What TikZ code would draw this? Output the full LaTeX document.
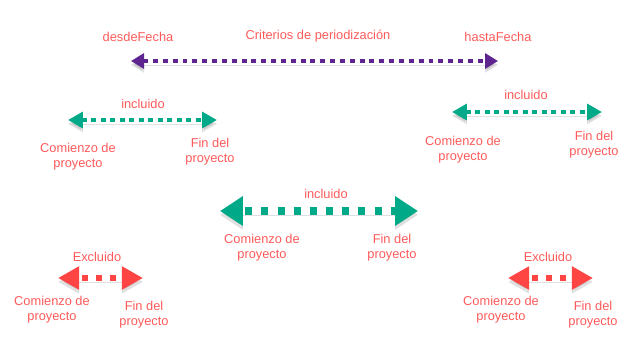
\documentclass[tikz,border=0pt]{standalone}
\usepackage{fontspec}
\setmainfont{Liberation Sans}
\usetikzlibrary{arrows.meta, positioning}

\definecolor{morado}{HTML}{5E2590}
\definecolor{verde}{HTML}{00AA88}
\definecolor{rojo}{HTML}{FF4444}
\definecolor{texto}{HTML}{FF5A5A}

\begin{document}
\begin{tikzpicture}[x=0.02cm, y=-0.02cm,
    every node/.style={font=\fontsize{7.3}{8.7}\selectfont, text=texto, align=center, inner sep=0pt},
    sombra/.style={preaction={draw=black, opacity=0.12, solid, transform canvas={yshift=-2.2pt}}},
    periodo/.style={draw=morado, line width=2.8pt, dash pattern=on 2.8pt off 2.8pt, {Triangle[length=7.4pt, width=8.5pt]}-{Triangle[length=7.4pt, width=8.5pt]}, sombra},
    incl/.style={draw=verde, line width=2.8pt, dash pattern=on 2.8pt off 2.6pt, {Triangle[length=8.5pt, width=9pt]}-{Triangle[length=8.5pt, width=9pt]}, sombra},
    inclgr/.style={draw=verde, line width=4pt, dash pattern=on 4pt off 5.2pt, dash phase=7pt, {Triangle[length=13pt, width=16pt]}-{Triangle[length=13pt, width=16pt]}, sombra},
    excl/.style={draw=rojo, line width=3.4pt, dash pattern=on 3.4pt off 4.5pt, dash phase=5.6pt, {Triangle[length=12pt, width=12.5pt]}-{Triangle[length=12pt, width=12.5pt]}, sombra}]
    \useasboundingbox (0,0) rectangle (639,342);

    % periodo
    \coordinate (desde) at (131,61);
    \coordinate (hasta) at (498,61);
    \node (desdeLbl) at (138,37) {desdeFecha};
    \node (criterios) at (318,36) {Criterios de periodización};
    \node (hastaLbl) at (498,37) {hastaFecha};
    \draw[periodo] (desde) -- (hasta);

    % incluido, a la izquierda
    \coordinate (inA1) at (68,120);
    \coordinate (inA2) at (217,120);
    \node (inclA) at (143,104) {incluido};
    \node (comA) at (78,157) {Comienzo de\\proyecto};
    \node (finA) at (210,152) {Fin del\\proyecto};
    \draw[incl] (inA1) -- (inA2);

    % incluido, a la derecha
    \coordinate (inB1) at (452,112);
    \coordinate (inB2) at (602,112);
    \node (inclB) at (526,95) {incluido};
    \node (comB) at (463,150) {Comienzo de\\proyecto};
    \node (finB) at (594,145) {Fin del\\proyecto};
    \draw[incl] (inB1) -- (inB2);

    % incluido, al centro
    \coordinate (inC1) at (220,211);
    \coordinate (inC2) at (418,211);
    \node (inclC) at (326,194) {incluido};
    \node (comC) at (262,248) {Comienzo de\\proyecto};
    \node (finC) at (392,248) {Fin del\\proyecto};
    \draw[inclgr] (inC1) -- (inC2);

    % excluido
    \coordinate (exA1) at (58,278);
    \coordinate (exA2) at (143,278);
    \node (exclA) at (97,257) {Excluido};
    \node (comD) at (52,310) {Comienzo de\\proyecto};
    \node (finD) at (144,315) {Fin del\\proyecto};
    \draw[excl] (exA1) -- (exA2);

    \coordinate (exB1) at (508,278);
    \coordinate (exB2) at (593,278);
    \node (exclB) at (548,257) {Excluido};
    \node (comE) at (501,310) {Comienzo de\\proyecto};
    \node (finE) at (593,315) {Fin del\\proyecto};
    \draw[excl] (exB1) -- (exB2);
\end{tikzpicture}
\end{document}
